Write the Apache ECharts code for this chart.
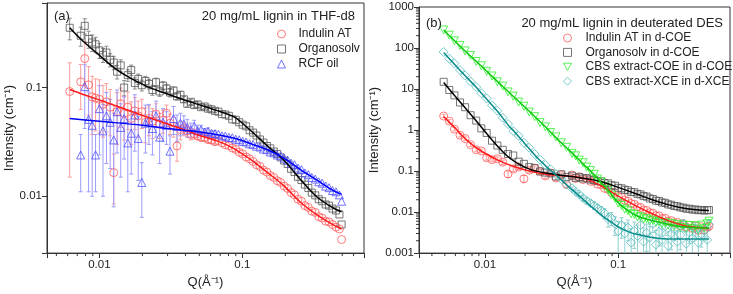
<!DOCTYPE html>
<html>
<head>
<meta charset="utf-8">
<script src="https://cdn.jsdelivr.net/npm/echarts@6.0.0/dist/echarts.min.js"></script>
<style>
html, body { margin: 0; padding: 0; background: #fff; }
#chart { width: 733px; height: 294px; }
</style>
</head>
<body>
<div id="chart"></div>
<script>
// ---- panel (a): 20 mg/mL lignin in THF-d8 ----
const qA = [
  0.0062, 0.0074, 0.0079, 0.0084, 0.0089, 0.0094, 0.0100, 0.0106, 0.0112, 0.0119,
  0.0126, 0.0133, 0.0141, 0.0149, 0.0158, 0.0167, 0.0177, 0.0187, 0.0198, 0.0210,
  0.0222, 0.0235, 0.0249, 0.0264, 0.0279, 0.0295, 0.0312, 0.0330, 0.0349, 0.0369,
  0.0390, 0.0412, 0.0436, 0.0461, 0.0487, 0.0515, 0.0545, 0.0576, 0.0609, 0.0644,
  0.0681, 0.0720, 0.0761, 0.0805, 0.0851, 0.0900, 0.0951, 0.1006, 0.1063, 0.1124,
  0.1189, 0.1257, 0.1329, 0.1405, 0.1485, 0.1570, 0.1660, 0.1755, 0.1856, 0.1962,
  0.2074, 0.2193, 0.2318, 0.2451, 0.2591, 0.2740, 0.2897, 0.3062, 0.3238, 0.3423,
  0.3619, 0.3826, 0.4045, 0.4277, 0.4522, 0.4780, 0.4950
];
const indulinA = [
  0.092, 0.113, 0.185, 0.106, 0.082, 0.080, 0.078, 0.070, 0.074, 0.066,
  0.0165, 0.060, 0.071, 0.058, 0.066, 0.052, 0.061, 0.055, 0.060, 0.048,
  0.052, 0.049, 0.057, 0.046, 0.050, 0.058, 0.047, 0.044, 0.029, 0.041,
  0.042, 0.040, 0.037, 0.0375, 0.036, 0.035, 0.0345, 0.0332, 0.0328, 0.0318,
  0.0325, 0.031, 0.0298, 0.0292, 0.0278, 0.0270, 0.0254, 0.0245, 0.0230, 0.0221,
  0.0209, 0.0195, 0.0188, 0.0174, 0.0167, 0.0155, 0.0149, 0.0139, 0.0134, 0.0124,
  0.0118, 0.0108, 0.0103, 0.0094, 0.0090, 0.0082, 0.0079, 0.0073, 0.0071, 0.0065,
  0.0063, 0.0059, 0.0058, 0.0055, 0.0052, 0.0050, 0.0040
];
const organosolvA = [
  0.355, 0.30, 0.37, 0.28, 0.26, 0.25, 0.22, 0.20, 0.21, 0.18,
  0.17, 0.14, 0.16, 0.10, 0.13, 0.145, 0.11, 0.12, 0.105, 0.115,
  0.108, 0.095, 0.112, 0.092, 0.104, 0.098, 0.090, 0.094, 0.083, 0.086,
  0.078, 0.071, 0.074, 0.069, 0.070, 0.066, 0.067, 0.064, 0.063, 0.061,
  0.060, 0.057, 0.0565, 0.055, 0.051, 0.0505, 0.048, 0.0455, 0.044, 0.0405,
  0.0385, 0.0362, 0.0333, 0.0312, 0.0290, 0.0276, 0.0258, 0.0245, 0.0228, 0.0213,
  0.0198, 0.0179, 0.0167, 0.0151, 0.0141, 0.0128, 0.0119, 0.0108, 0.0102, 0.0094,
  0.0090, 0.0084, 0.0082, 0.0077, 0.0074, 0.0068, 0.0055
];
const rcfA = [
  null, 0.024, 0.102, 0.051, 0.045, 0.024, 0.064, 0.040, 0.055, 0.048,
  0.033, 0.060, 0.043, 0.052, 0.031, 0.038, 0.056, 0.034, 0.0134, 0.047,
  0.050, 0.042, 0.055, 0.035, 0.048, 0.045, 0.026, 0.052, 0.044, 0.047,
  0.046, 0.043, 0.041, 0.044, 0.040, 0.041, 0.039, 0.0395, 0.038, 0.0378,
  0.0372, 0.0360, 0.0358, 0.0348, 0.0346, 0.0335, 0.0331, 0.0320, 0.0316, 0.0304,
  0.0300, 0.0289, 0.0284, 0.0272, 0.0268, 0.0256, 0.0251, 0.0240, 0.0236, 0.0224,
  0.0215, 0.0202, 0.0195, 0.0182, 0.0176, 0.0164, 0.0158, 0.0149, 0.0144, 0.0136,
  0.0132, 0.0124, 0.0120, 0.0113, 0.0110, 0.0103, 0.0090
];
// error bars (only the low-Q points have visible ones)
const errIndulinA = [
  0.077, 0.05, 0.08, 0.05, 0.045, 0.04, 0.04, 0.035, 0.035, 0.03,
  0.008, 0.03, 0.028, 0.025, 0.025, 0.022, 0.02, 0.02, 0.018, 0.017,
  0.016, 0.015, 0.014, 0.012, 0.012, 0.011, 0.01, 0.009, 0.008, 0.008,
  0.006, 0.005, 0.004, 0.004, 0.003, 0.003, 0.002, 0.002, 0.002, 0.002
];
const errOrganosolvA = [
  0.08, 0.06, 0.06, 0.05, 0.045, 0.04, 0.035, 0.03, 0.03, 0.025,
  0.024, 0.02, 0.02, 0.016, 0.016, 0.016, 0.013, 0.013, 0.012, 0.012,
  0.011, 0.01, 0.01, 0.009, 0.009, 0.008, 0.008, 0.007, 0.006, 0.006,
  0.005, 0.005, 0.004, 0.004, 0.004, 0.003, 0.003, 0.003, 0.003, 0.002
];
const errRcfA = [
  0, 0.013, 0.06, 0.04, 0.035, 0.013, 0.04, 0.03, 0.035, 0.03,
  0.025, 0.035, 0.028, 0.03, 0.02, 0.022, 0.03, 0.02, 0.007, 0.022,
  0.02, 0.018, 0.02, 0.015, 0.016, 0.015, 0.01, 0.015, 0.012, 0.011,
  0.009, 0.008, 0.006, 0.006, 0.005, 0.004, 0.003, 0.003, 0.002, 0.002
];
// fitted curves
const fitIndulinA = [[0.0062,0.096],[0.008,0.085],[0.01,0.077],[0.013,0.068],[0.017,0.060],[0.022,0.053],[0.029,0.047],[0.037,0.042],[0.0508,0.036],[0.068,0.032],[0.085,0.028],[0.1,0.0245],[0.12,0.0208],[0.15,0.0165],[0.194,0.0126],[0.255,0.0088],[0.335,0.0067],[0.433,0.00545],[0.495,0.005]];
const fitOrganosolvA = [[0.0062,0.355],[0.0074,0.28],[0.0097,0.205],[0.0127,0.152],[0.0165,0.122],[0.0217,0.102],[0.028,0.09],[0.037,0.079],[0.0508,0.069],[0.065,0.062],[0.087,0.054],[0.1,0.047],[0.12,0.038],[0.15,0.029],[0.194,0.0217],[0.255,0.0143],[0.335,0.0098],[0.433,0.0078],[0.495,0.0072]];
const fitRcfA = [[0.0062,0.052],[0.01,0.049],[0.02,0.045],[0.03,0.042],[0.0508,0.039],[0.0866,0.0344],[0.12,0.0298],[0.15,0.0268],[0.194,0.0226],[0.255,0.0176],[0.335,0.014],[0.433,0.0113],[0.495,0.0104]];

// ---- panel (b): 20 mg/mL lignin in deuterated DES ----
const qB = [
  0.0049, 0.0054, 0.0059, 0.0065, 0.0071, 0.0078, 0.0086, 0.0094, 0.0103, 0.0113,
  0.0124, 0.0136, 0.0149, 0.0163, 0.0179, 0.0196, 0.0215, 0.0236, 0.0259, 0.0284,
  0.0311, 0.0341, 0.0374, 0.0410, 0.0450, 0.0480, 0.0510, 0.0545, 0.0580, 0.0620,
  0.0660, 0.0700, 0.0745, 0.0790, 0.0840, 0.0890, 0.0945, 0.1000, 0.1060, 0.1120,
  0.1185, 0.1250, 0.1320, 0.1395, 0.1470, 0.1550, 0.1635, 0.1725, 0.1820, 0.1920,
  0.2025, 0.2135, 0.2250, 0.2370, 0.2500, 0.2635, 0.2775, 0.2925, 0.3080, 0.3245,
  0.3420, 0.3600, 0.3790, 0.3990, 0.4200, 0.4420, 0.4650, 0.4800
];
const indulinB = [
  2.2, 1.65, 1.05, 0.75, 0.62, 0.44, 0.33, 0.31, 0.21, 0.19,
  0.2, 0.165, 0.085, 0.112, 0.125, 0.065, 0.105, 0.118, 0.098, 0.076,
  0.090, 0.068, 0.082, 0.047, 0.080, 0.066, 0.072, 0.062, 0.066, 0.056,
  0.057, 0.048, 0.046, 0.038, 0.036, 0.030, 0.029, 0.024, 0.023, 0.0195,
  0.0185, 0.0162, 0.0155, 0.0135, 0.0130, 0.0112, 0.0110, 0.0097, 0.0094, 0.0082,
  0.0081, 0.0070, 0.0071, 0.0060, 0.0062, 0.0054, 0.0056, 0.0046, 0.0051, 0.0043,
  0.0048, 0.0040, 0.0046, 0.0036, 0.0044, 0.0037, 0.0043, 0.0045
];
const organosolvB = [
  15, 9.5, 7.0, 4.7, 3.6, 2.3, 1.7, 1.1, 0.85, 0.55,
  0.42, 0.33, 0.26, 0.24, 0.17, 0.15, 0.125, 0.118, 0.098, 0.092,
  0.088, 0.074, 0.083, 0.072, 0.077, 0.068, 0.072, 0.066, 0.067, 0.062,
  0.061, 0.057, 0.056, 0.051, 0.050, 0.045, 0.044, 0.039, 0.038, 0.035,
  0.034, 0.031, 0.0305, 0.0278, 0.0270, 0.0246, 0.0238, 0.0215, 0.0208, 0.019,
  0.0186, 0.0171, 0.0168, 0.0154, 0.0151, 0.0140, 0.0139, 0.0130, 0.0128, 0.0121,
  0.0121, 0.0115, 0.0116, 0.0111, 0.0113, 0.0109, 0.0111, 0.0112
];
const cbsCoeB = [
  275, 205, 150, 116, 85, 66, 47, 37, 27, 20.8,
  15.0, 11.8, 8.5, 6.7, 4.8, 3.8, 2.75, 2.12, 1.52, 1.20,
  0.87, 0.68, 0.49, 0.38, 0.27, 0.235, 0.185, 0.16, 0.125, 0.103,
  0.083, 0.064, 0.054, 0.042, 0.035, 0.026, 0.022, 0.0165, 0.0145, 0.0118,
  0.0108, 0.0091, 0.0088, 0.0076, 0.0077, 0.0068, 0.0069, 0.0061, 0.0064, 0.0056,
  0.0059, 0.0052, 0.0055, 0.0048, 0.0053, 0.0045, 0.0050, 0.0042, 0.0048, 0.0040,
  0.0047, 0.0039, 0.0046, 0.0037, 0.0048, 0.0040, 0.0052, 0.0060
];
const cbsXceB = [
  80, 55, 42, 29, 21.5, 15.2, 11.2, 7.9, 5.9, 4.0,
  2.95, 2.0, 1.40, 0.95, 0.72, 0.49, 0.37, 0.26, 0.19, 0.14,
  0.11, 0.083, 0.064, 0.047, 0.038, 0.031, 0.027, 0.022, 0.019, 0.0165,
  0.0145, 0.0125, 0.011, 0.0095, 0.0068, 0.0072, 0.0052, 0.0034, 0.0048, 0.0030,
  0.0042, 0.0018, 0.0035, 0.0026, 0.0048, 0.0019, 0.0031, 0.0024, 0.0052, 0.0016,
  0.0033, 0.0021, 0.0045, 0.0015, 0.0030, 0.0038, 0.0019, 0.0028, 0.0050, 0.0017,
  0.0032, 0.0023, 0.0040, 0.0018, 0.0029, 0.0035, 0.0021, 0.0050
];
const errIndulinB = [
  0.2, 0.15, 0.1, 0.07, 0.06, 0.045, 0.035, 0.03, 0.025, 0.022,
  0.022, 0.02, 0.015, 0.015, 0.016, 0.013, 0.014, 0.014, 0.012, 0.01,
  0.01, 0.009, 0.008, 0.007, 0.006, 0.005, 0.004, 0.004, 0.003, 0.003
];
const errCbsXceB = [
  0, 0, 0, 0, 0, 0, 0, 0, 0, 0,
  0, 0, 0, 0, 0, 0, 0, 0, 0, 0,
  0, 0, 0, 0, 0.003, 0.003, 0.003, 0.003, 0.003, 0.003,
  0.003, 0.003, 0.0025, 0.0025, 0.0025, 0.0025, 0.0025, 0.0025, 0.0025, 0.0025,
  0.0022, 0.0022, 0.0022, 0.0022, 0.0022, 0.0022, 0.002, 0.002, 0.002, 0.002,
  0.0018, 0.0018, 0.0018, 0.0018, 0.0018, 0.0018, 0.0016, 0.0016, 0.0016, 0.0016,
  0.0015, 0.0015, 0.0015, 0.0015, 0.0015, 0.0015, 0.0015, 0.0015
];
const fitIndulinB = [[0.0049,2.15],[0.0053,1.65],[0.006,1.1],[0.0071,0.62],[0.0081,0.43],[0.0095,0.30],[0.0125,0.185],[0.0167,0.127],[0.0224,0.097],[0.0295,0.082],[0.0395,0.077],[0.05,0.071],[0.06,0.061],[0.076,0.042],[0.1,0.0245],[0.136,0.0142],[0.18,0.0091],[0.24,0.0061],[0.32,0.0046],[0.40,0.0042],[0.48,0.004]];
const fitOrganosolvB = [[0.0049,14.5],[0.006,6.6],[0.0071,3.5],[0.0085,1.75],[0.01,0.92],[0.0123,0.42],[0.015,0.22],[0.018,0.148],[0.0224,0.107],[0.0295,0.088],[0.0395,0.077],[0.05,0.070],[0.06,0.064],[0.076,0.054],[0.1,0.040],[0.136,0.028],[0.18,0.020],[0.24,0.015],[0.32,0.0122],[0.40,0.0112],[0.48,0.011]];
const fitCbsCoeB = [[0.0049,275],[0.007,88],[0.01,30],[0.0136,11.5],[0.02,3.6],[0.028,1.25],[0.036,0.55],[0.043,0.32],[0.055,0.145],[0.062,0.100],[0.072,0.060],[0.084,0.034],[0.1,0.017],[0.12,0.0105],[0.14,0.0079],[0.18,0.0062],[0.24,0.005],[0.32,0.0043],[0.42,0.0041],[0.48,0.0041]];
const fitCbsXceB = [[0.0049,78],[0.006,38],[0.0071,21],[0.0085,11.5],[0.01,6.3],[0.0125,2.8],[0.015,1.3],[0.0167,0.9],[0.02,0.46],[0.0244,0.22],[0.03,0.115],[0.0345,0.077],[0.043,0.04],[0.0576,0.0175],[0.0761,0.008],[0.09,0.0055],[0.101,0.0043],[0.12,0.0033],[0.136,0.0029],[0.18,0.0024],[0.25,0.0022],[0.35,0.0022],[0.48,0.0022]];

// minor tick positions
const minorXA = [0.005,0.006,0.007,0.008,0.009,0.02,0.03,0.04,0.05,0.06,0.07,0.08,0.09,0.2,0.3,0.4,0.5,0.6];
const minorXB = [0.004,0.005,0.006,0.007,0.008,0.009,0.02,0.03,0.04,0.05,0.06,0.07,0.08,0.09,0.2,0.3,0.4,0.5,0.6];
const minorYB = [0.002,0.003,0.004,0.005,0.006,0.007,0.008,0.009,0.02,0.03,0.04,0.05,0.06,0.07,0.08,0.09,
  0.2,0.3,0.4,0.5,0.6,0.7,0.8,0.9,2,3,4,5,6,7,8,9,20,30,40,50,60,70,80,90,200,300,400,500,600,700,800,900];

const FONT = 'Liberation Sans, Arial, sans-serif';
const AX = '#333';
const DOWN_TRI = 'path://M0,0L10,0L5,9Z';

function pts(q, v) {
  const out = [];
  q.forEach((x, i) => { if (v[i] != null) out.push([x, v[i]]); });
  return out;
}
function bars(q, v, e) {
  const out = [];
  q.forEach((x, i) => {
    if (v[i] == null || !e[i]) return;
    out.push([x, Math.max(v[i] - e[i], 1e-5), v[i] + e[i]]);
  });
  return out;
}
function barRender(color) {
  return function (params, api) {
    const x = api.value(0);
    const a = api.coord([x, api.value(1)]);
    const b = api.coord([x, api.value(2)]);
    const c = 2;
    const st = { stroke: color, lineWidth: 1 };
    return { type: 'group', children: [
      { type: 'line', shape: { x1: a[0], y1: a[1], x2: b[0], y2: b[1] }, style: st },
      { type: 'line', shape: { x1: a[0] - c, y1: a[1], x2: a[0] + c, y2: a[1] }, style: st },
      { type: 'line', shape: { x1: b[0] - c, y1: b[1], x2: b[0] + c, y2: b[1] }, style: st }
    ]};
  };
}
function decLabel(v) {
  const l = Math.log10(v), r = Math.round(l);
  if (Math.abs(l - r) > 1e-6) return '';
  return r >= 0 ? String(Math.pow(10, r)) : Math.pow(10, r).toFixed(-r);
}
function minorXRender(params, api) {
  const cs = params.coordSys;
  const x = api.coord([api.value(0), api.value(1)])[0];
  const y = cs.y + cs.height;
  return { type: 'line', shape: { x1: x, y1: y, x2: x, y2: y + 3 }, style: { stroke: AX, lineWidth: 1 } };
}
function minorYRender(params, api) {
  const cs = params.coordSys;
  const y = api.coord([api.value(0), api.value(1)])[1];
  const x = cs.x;
  return { type: 'line', shape: { x1: x - 3, y1: y, x2: x, y2: y }, style: { stroke: AX, lineWidth: 1 } };
}

function xAxisOf(grid, min, max) {
  return {
    type: 'log', logBase: 10, gridIndex: grid, min: min, max: max,
    name: 'Q(Å⁻¹)', nameLocation: 'middle', nameGap: 22,
    nameTextStyle: { fontSize: 13, color: '#222', fontFamily: FONT },
    axisLine: { lineStyle: { color: AX, width: 1 } },
    axisTick: { length: 5, lineStyle: { color: AX } },
    axisLabel: { formatter: decLabel, fontSize: 11.5, color: '#222', margin: 6, fontFamily: FONT },
    splitLine: { show: false }
  };
}
function yAxisOf(grid, min, max, gap) {
  return {
    type: 'log', logBase: 10, gridIndex: grid, min: min, max: max,
    name: 'Intensity (cm⁻¹)', nameLocation: 'middle', nameGap: gap,
    nameTextStyle: { fontSize: 13, color: '#222', fontFamily: FONT },
    axisLine: { lineStyle: { color: AX, width: 1 } },
    axisTick: { length: 5, lineStyle: { color: AX } },
    axisLabel: { formatter: decLabel, fontSize: 11.5, color: '#222', margin: 5, fontFamily: FONT },
    splitLine: { show: false }
  };
}
function scatter(name, xi, data, symbol, size, color) {
  return {
    name: name, type: 'scatter', xAxisIndex: xi, yAxisIndex: xi, data: data,
    symbol: symbol, symbolSize: size,
    itemStyle: { color: 'rgba(255,255,255,0)', borderColor: color, borderWidth: 1 },
    z: 3
  };
}
function errSeries(xi, data, color) {
  return {
    type: 'custom', xAxisIndex: xi, yAxisIndex: xi, data: data, clip: true, silent: true,
    encode: { x: 0, y: [1, 2] }, renderItem: barRender(color), z: 2
  };
}
function fitLine(xi, data, color) {
  return {
    type: 'line', xAxisIndex: xi, yAxisIndex: xi, data: data, showSymbol: false, smooth: 0.35,
    lineStyle: { color: color, width: 1.5 }, itemStyle: { color: color }, silent: true, z: 4
  };
}
function minorSeries(xi, data, render) {
  return { type: 'custom', xAxisIndex: xi, yAxisIndex: xi, data: data, clip: false, silent: true, renderItem: render, z: 5 };
}
function legendItem(name, icon, color) {
  return { name: name, icon: icon, itemStyle: { color: 'rgba(255,255,255,0)', borderColor: color, borderWidth: 1 } };
}

const cA = { ind: '#ff5a5a', org: '#555555', rcf: '#5050ff' };
const cB = { ind: '#ff5a5a', org: '#555555', coe: '#2ef22e', xce: '#55bcbc' };

const chart = echarts.init(document.getElementById('chart'), null, { renderer: 'canvas' });
chart.setOption({
  animation: false,
  textStyle: { fontFamily: FONT },
  title: [
    { text: '(a)', left: 49, top: 5, textStyle: { fontSize: 13, fontWeight: 'normal', color: '#222', fontFamily: FONT } },
    { text: '20 mg/mL lignin in THF-d8', right: 373, top: 5, textStyle: { fontSize: 13, fontWeight: 'normal', color: '#222', fontFamily: FONT } },
    { text: '(b)', left: 421, top: 12, textStyle: { fontSize: 13, fontWeight: 'normal', color: '#222', fontFamily: FONT } },
    { text: '20 mg/mL lignin in deuterated DES', right: 5, top: 12, textStyle: { fontSize: 13, fontWeight: 'normal', color: '#222', fontFamily: FONT } }
  ],
  legend: [
    { left: 277, top: 28, orient: 'vertical', padding: 0, itemGap: 3, itemWidth: 8, itemHeight: 8,
      textStyle: { fontSize: 12, color: '#222', fontFamily: FONT, padding: [0, 0, 0, 8] },
      data: [
        legendItem('Indulin AT', 'circle', cA.ind),
        legendItem('Organosolv', 'rect', cA.org),
        legendItem('RCF oil', 'triangle', cA.rcf)
      ] },
    { left: 563, top: 32, orient: 'vertical', padding: 0, itemGap: 2.4, itemWidth: 8, itemHeight: 8,
      textStyle: { fontSize: 12, color: '#222', fontFamily: FONT, padding: [0, 0, 0, 9] },
      data: [
        legendItem('Indulin AT in d-COE', 'circle', cB.ind),
        legendItem('Organosolv in d-COE', 'rect', cB.org),
        legendItem('CBS extract-COE in d-COE', DOWN_TRI, cB.coe),
        legendItem('CBS extract-XCE in d-XCE', 'diamond', cB.xce)
      ] }
  ],
  grid: [
    { left: 47, top: 3, width: 317, height: 253, show: true, borderColor: AX, borderWidth: 1 },
    { left: 419, top: 7, width: 312, height: 250, show: true, borderColor: AX, borderWidth: 1 }
  ],
  xAxis: [xAxisOf(0, 0.0043, 0.71), xAxisOf(1, 0.0032, 0.69)],
  yAxis: [yAxisOf(0, 0.003, 0.6, 30), yAxisOf(1, 0.001, 1000, 28)],
  series: [
    // panel (a)
    errSeries(0, bars(qA, organosolvA, errOrganosolvA), '#8a8a8a'),
    errSeries(0, bars(qA, indulinA, errIndulinA), '#ff9c9c'),
    errSeries(0, bars(qA, rcfA, errRcfA), '#9c9cff'),
    scatter('Indulin AT', 0, pts(qA, indulinA), 'circle', 8, cA.ind),
    scatter('Organosolv', 0, pts(qA, organosolvA), 'rect', 7, cA.org),
    scatter('RCF oil', 0, pts(qA, rcfA), 'triangle', 8, cA.rcf),
    fitLine(0, fitOrganosolvA, '#000000'),
    fitLine(0, fitIndulinA, '#ff1a1a'),
    fitLine(0, fitRcfA, '#0000ff'),
    minorSeries(0, minorXA.map(v => [v, 0.01]), minorXRender),
    // panel (b)
    errSeries(1, bars(qB, cbsXceB, errCbsXceB), '#8fd0d0'),
    errSeries(1, bars(qB, indulinB, errIndulinB), '#ff9c9c'),
    scatter('Indulin AT in d-COE', 1, pts(qB, indulinB), 'circle', 8, cB.ind),
    scatter('Organosolv in d-COE', 1, pts(qB, organosolvB), 'rect', 7, cB.org),
    scatter('CBS extract-COE in d-COE', 1, pts(qB, cbsCoeB), DOWN_TRI, 8, cB.coe),
    scatter('CBS extract-XCE in d-XCE', 1, pts(qB, cbsXceB), 'diamond', 9, cB.xce),
    fitLine(1, fitIndulinB, '#ff1a1a'),
    fitLine(1, fitOrganosolvB, '#000000'),
    fitLine(1, fitCbsCoeB, '#10c810'),
    fitLine(1, fitCbsXceB, '#0a8c8c'),
    minorSeries(1, minorXB.map(v => [v, 0.01]), minorXRender),
    minorSeries(1, minorYB.map(v => [0.01, v]), minorYRender)
  ]
});
</script>
</body>
</html>
